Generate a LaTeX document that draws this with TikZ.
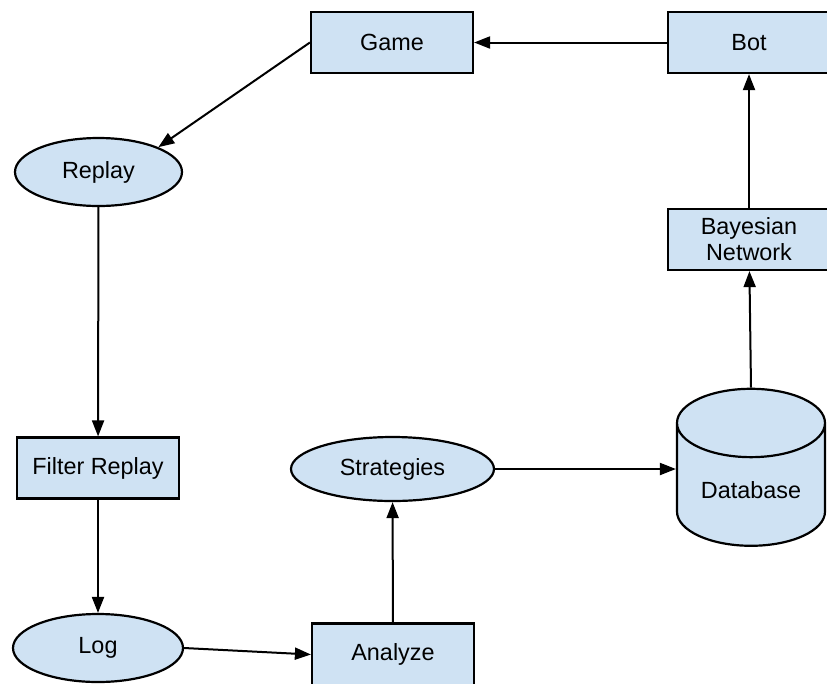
\documentclass[tikz,border=0pt]{standalone}
\usepackage{fontspec}
\setmainfont{Liberation Sans}
\usetikzlibrary{shapes.geometric,arrows.meta}
\definecolor{boxblue}{HTML}{CFE2F3}
\tikzset{
	box/.style={draw, fill=boxblue, line width=2.2pt, minimum width=162pt, minimum height=61pt, inner sep=2pt, align=center},
	oval/.style={draw, fill=boxblue, line width=2.2pt, ellipse, inner sep=0pt},
	store/.style={draw, fill=boxblue, line width=2.2pt, cylinder, shape border rotate=90, aspect=0.64, minimum width=148pt, minimum height=157pt}
}
\begin{document}
\begin{tikzpicture}[x=1pt,y=-1pt,->,>={Triangle[length=16pt,width=12pt]},line width=2pt,font=\fontsize{23.4}{26}\selectfont]
	\useasboundingbox (0,0) rectangle (827,683);
	\node (game) [box] at (392,42.5) {Game};
	\node (bot) [box] at (749,42.5) {Bot};
	\node (replay) [oval, minimum width=167pt, minimum height=68pt] at (98.5,172) {Replay};
	\node (filter) [box] at (98,468) {Filter Replay};
	\node (log) [oval, minimum width=170pt, minimum height=68pt] at (98,648) {Log};
	\node (analyze) [box, minimum height=62pt] at (393,654.5) {Analyze};
	\node (strat) [oval, minimum width=203pt, minimum height=64pt] at (392.5,469) {Strategies};
	\node (db) [store] at (751,490) {Database};
	\node (bayes) [box] at (749,239.5) {Bayesian\\Network};

	\draw (bot) -- (game);
	\draw (game.west) -- (replay.north east);
	\draw (replay) -- (filter);
	\draw (filter) -- (log);
	\draw (log.east) -- (analyze.west);
	\draw (analyze) -- (strat);
	\draw (strat.east) -- (strat.east -| db.west);
	\draw (db.north) -- (bayes);
	\draw (bayes) -- (bot);
\end{tikzpicture}
\end{document}
